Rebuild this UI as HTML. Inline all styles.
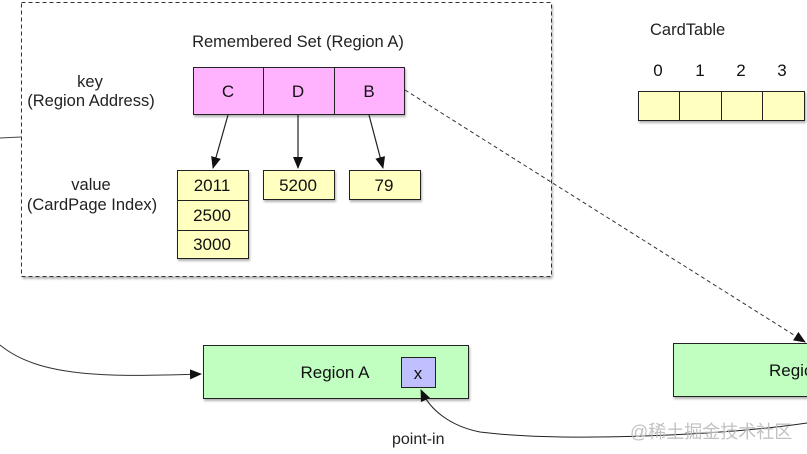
<!DOCTYPE html>
<html><head><meta charset="utf-8"><style>
html,body{margin:0;padding:0;background:#fff;width:807px;height:454px;overflow:hidden}
text{font-family:"Liberation Sans","Noto Sans CJK SC",sans-serif}
</style></head><body>
<svg width="807" height="454" viewBox="0 0 807 454" xmlns="http://www.w3.org/2000/svg">
<defs>
<marker id="a" markerWidth="12" markerHeight="10" refX="11" refY="5" orient="auto" markerUnits="userSpaceOnUse"><path d="M0,0 L12,5 L0,10 Z" fill="#111"/></marker>
<filter id="s" x="-5%" y="-5%" width="115%" height="125%"><feDropShadow dx="1" dy="2" stdDeviation="1" flood-color="#000" flood-opacity="0.3"/></filter>
</defs>
<rect x="21.5" y="2.5" width="530" height="274" fill="#fff" stroke="#333" stroke-dasharray="4,3" filter="url(#s)"/>
<line x1="0" y1="138" x2="21" y2="137" stroke="#444"/>
<text x="298" y="47" font-size="16.5" text-anchor="middle" fill="#222">Remembered Set (Region A)</text>
<text x="90" y="87" font-size="16.5" text-anchor="middle" fill="#222">key</text>
<text x="91" y="106" font-size="16.5" text-anchor="middle" fill="#222">(Region Address)</text>
<text x="91" y="190" font-size="16.5" text-anchor="middle" fill="#222">value</text>
<text x="92" y="210" font-size="16.5" text-anchor="middle" fill="#222">(CardPage Index)</text>
<g stroke="#222" fill="#ffb3ff" filter="url(#s)">
<rect x="193.5" y="67.5" width="211" height="47"/>
</g>
<g stroke="#222"><line x1="263.5" y1="67" x2="263.5" y2="115"/><line x1="334.5" y1="67" x2="334.5" y2="115"/></g>
<g font-size="17" text-anchor="middle" fill="#111"><text x="228" y="97">C</text><text x="298" y="97">D</text><text x="369" y="97">B</text></g>
<g stroke="#222" fill="#ffffc0" filter="url(#s)">
<rect x="177.5" y="170.5" width="71" height="88"/>
<rect x="263.5" y="170.5" width="71" height="29"/>
<rect x="349.5" y="170.5" width="71" height="29"/>
</g>
<g stroke="#222"><line x1="177" y1="200.5" x2="249" y2="200.5"/><line x1="177" y1="230.5" x2="249" y2="230.5"/></g>
<g font-size="17" text-anchor="middle" fill="#111">
<text x="212" y="191">2011</text><text x="212" y="221">2500</text><text x="212" y="250">3000</text>
<text x="298" y="191">5200</text><text x="384" y="191">79</text></g>
<g stroke="#222" stroke-width="1.2" marker-end="url(#a)">
<line x1="228" y1="115" x2="213" y2="168"/>
<line x1="298" y1="115" x2="298" y2="168"/>
<line x1="369" y1="115" x2="383" y2="168"/>
</g>
<line x1="405" y1="90" x2="805" y2="342" stroke="#333" stroke-dasharray="4,3" marker-end="url(#a)"/>
<text x="650" y="35" font-size="16.5" fill="#222">CardTable</text>
<g font-size="17" text-anchor="middle" fill="#111"><text x="658" y="76">0</text><text x="700" y="76">1</text><text x="741" y="76">2</text><text x="782" y="76">3</text></g>
<rect x="638.5" y="91.5" width="166" height="29" fill="#ffffc0" stroke="#222" filter="url(#s)"/>
<g stroke="#222"><line x1="679.5" y1="91" x2="679.5" y2="121"/><line x1="721.5" y1="91" x2="721.5" y2="121"/><line x1="762.5" y1="91" x2="762.5" y2="121"/></g>
<rect x="203.5" y="345.5" width="265" height="53" fill="#c0ffc0" stroke="#222" filter="url(#s)"/>
<text x="335" y="378" font-size="17" text-anchor="middle" fill="#111">Region A</text>
<rect x="401.5" y="357.5" width="34" height="30" fill="#c0c0ff" stroke="#222"/>
<text x="418" y="379" font-size="17" text-anchor="middle" fill="#111">x</text>
<rect x="673.5" y="343.5" width="140" height="53" fill="#c0ffc0" stroke="#222" filter="url(#s)"/>
<text x="769" y="376" font-size="17" fill="#111">Regio</text>
<path d="M0,345 C40,378 110,377 201,374" fill="none" stroke="#333" marker-end="url(#a)"/>
<path d="M807,423 C720,436 560,442 480,432 C450,426 430,410 421,390" fill="none" stroke="#222" marker-end="url(#a)"/>
<text x="392" y="444" font-size="16" fill="#222">point-in</text>
<text x="630" y="438" font-size="18" fill="#bbb" opacity="0.9">@稀土掘金技术社区</text>
</svg>
</body></html>
